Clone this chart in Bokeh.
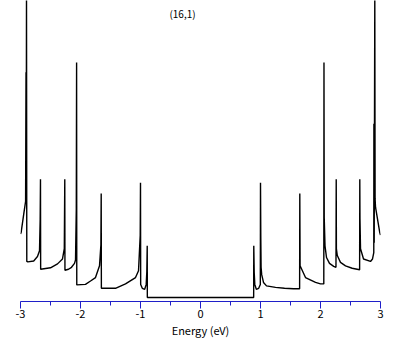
from bokeh.plotting import figure
from bokeh.models import Range1d, FixedTicker, Label
from bokeh.embed import file_html
from bokeh.resources import INLINE

# Density of states (energy in eV, DOS in arbitrary units)
energy = [-3.0, -2.99, -2.945, -2.915, -2.908, -2.905, -2.900, -2.895, -2.878, -2.78,
          -2.717, -2.683, -2.672, -2.667, -2.664, -2.5, -2.383, -2.3, -2.27, -2.262,
          -2.259, -2.2, -2.15, -2.1, -2.083, -2.07, -2.065, -2.062, -1.917, -1.833,
          -1.75, -1.683, -1.66, -1.655, -1.652, -1.417, -1.25, -1.083, -1.033, -1.005,
          -1.0, -0.997, -0.97, -0.93, -0.905, -0.895, -0.888, -0.886,
          0.886, 0.888, 0.895, 0.905, 0.93, 0.97, 0.997, 1.0, 1.005, 1.01,
          1.02, 1.05, 1.1, 1.25, 1.4, 1.55, 1.652, 1.655, 1.66, 1.75,
          1.917, 2.0, 2.055, 2.058, 2.062, 2.075, 2.10, 2.15, 2.22, 2.258,
          2.262, 2.265, 2.28, 2.333, 2.417, 2.528, 2.652, 2.655, 2.658, 2.667,
          2.717, 2.833, 2.867, 2.888, 2.89, 2.895, 2.905, 2.91, 2.917, 2.988, 3.0]
dos = [1.38, 1.41, 1.80, 2.05, 4.69, 2.00, 6.30, 0.82, 0.81, 0.83,
       0.92, 1.04, 1.69, 2.50, 0.66, 0.69, 0.77, 0.87, 1.08, 2.50,
       0.64, 0.66, 0.70, 0.78, 0.85, 1.90, 4.89, 0.34, 0.35, 0.42,
       0.49, 0.73, 1.16, 2.21, 0.27, 0.27, 0.36, 0.49, 0.63, 1.35,
       2.43, 0.35, 0.27, 0.25, 0.35, 0.60, 1.14, 0.082,
       0.082, 1.14, 0.60, 0.35, 0.25, 0.27, 0.35, 2.43, 1.31, 0.70,
       0.55, 0.39, 0.32, 0.29, 0.27, 0.26, 0.26, 2.21, 0.73, 0.49,
       0.39, 0.36, 0.36, 4.89, 1.72, 1.14, 0.90, 0.78, 0.72, 0.70,
       2.50, 1.08, 0.94, 0.80, 0.73, 0.68, 0.65, 2.50, 1.69, 1.08,
       0.87, 0.82, 0.87, 1.00, 3.64, 1.20, 6.30, 2.10, 1.93, 1.41, 1.36]

tick_values = [-3, -2, -1, 0, 1, 2, 3]
minor_values = [-2.5, -1.5, -0.5, 0.5, 1.5, 2.5]
tick_labels = ["-3", "-2", "-1", "0", "1", "2", "3"]
title_text = "(16,1)"
x_label = "Energy (eV)"

FONT = "Noto Sans CJK JP"
AXIS_BLUE = "#1f1fc8"

p = figure(frame_width=360, frame_height=301, output_backend="svg",
           toolbar_location=None, x_range=Range1d(-3, 3), y_range=Range1d(0, 6.16),
           min_border_left=20, min_border_right=13, min_border_top=0,
           min_border_bottom=40)
p.outline_line_color = None
p.xgrid.visible = False
p.ygrid.visible = False
p.yaxis.visible = False
p.background_fill_color = "white"
p.border_fill_color = "white"

p.line(energy, dos, line_color="black", line_width=1.4)

ax = p.xaxis[0]
ax.ticker = FixedTicker(ticks=tick_values, minor_ticks=minor_values)
ax.major_label_overrides = {v: s for v, s in zip(tick_values, tick_labels)}
ax.axis_line_color = AXIS_BLUE
ax.major_tick_line_color = AXIS_BLUE
ax.minor_tick_line_color = AXIS_BLUE
ax.major_tick_in = 0
ax.major_tick_out = 7
ax.minor_tick_in = 0
ax.minor_tick_out = 4
ax.major_label_standoff = 1
ax.major_label_text_font = FONT
ax.major_label_text_font_size = "11px"
ax.major_label_text_color = "black"
ax.axis_label = x_label
ax.axis_label_text_font = FONT
ax.axis_label_text_font_size = "11px"
ax.axis_label_text_font_style = "normal"
ax.axis_label_text_color = "black"
ax.axis_label_standoff = 1

p.add_layout(Label(x=-0.3, y=5.9, text=title_text, text_align="center",
                   text_baseline="middle", text_font=FONT,
                   text_font_size="10px", text_color="black"))

open("out.html", "w").write(file_html(p, INLINE))
